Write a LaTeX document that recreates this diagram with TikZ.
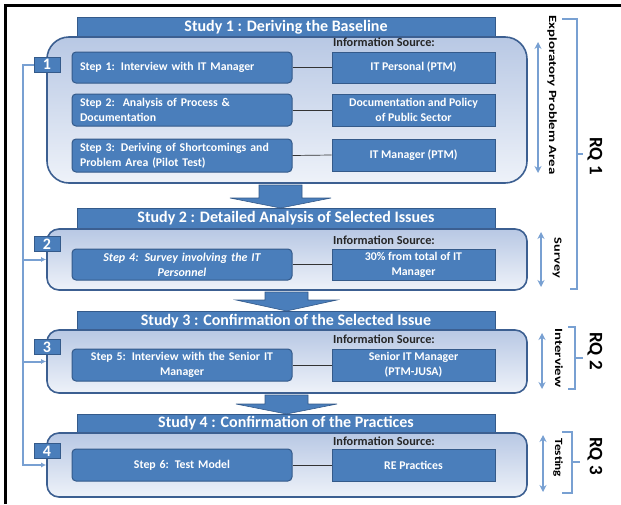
\documentclass[tikz,border=0pt]{standalone}
\usepackage{fontspec}
\setmainfont{Carlito}
\usetikzlibrary{arrows.meta}
\definecolor{boxblue}{RGB}{74,126,187}
\definecolor{boxedge}{RGB}{52,90,138}
\definecolor{lightline}{RGB}{120,160,210}
\definecolor{frameedge}{RGB}{60,95,145}
\definecolor{shadetop}{RGB}{184,200,228}
\definecolor{shadebot}{RGB}{238,242,249}
\begin{document}
\begin{tikzpicture}[x=1pt,y=-1pt,
 titlebar/.style={draw=boxedge, line width=0.8pt, fill=boxblue, minimum width=418pt, minimum height=20pt, inner sep=0pt, text=white, font=\bfseries\fontsize{16}{17}\selectfont},
 studybox/.style={draw=frameedge, line width=1.6pt, top color=shadetop, bottom color=shadebot, minimum width=480pt, inner sep=0pt},
 stepbox/.style={draw=boxedge, line width=1pt, fill=boxblue, rounded corners=4pt, minimum width=220pt, inner xsep=8pt, inner ysep=0pt, text width=204pt, align=left, text=white, font=\bfseries\fontsize{11.8}{15}\selectfont},
 infobox/.style={draw=boxedge, line width=1pt, fill=boxblue, minimum width=163pt, inner sep=0pt, text=white, align=center, font=\bfseries\fontsize{11.8}{15}\selectfont},
 numbox/.style={draw=boxedge, line width=1pt, fill=boxblue, minimum width=26pt, minimum height=15pt, inner sep=0pt, text=white, font=\bfseries\fontsize{16}{16}\selectfont},
 infolabel/.style={anchor=west, inner sep=0pt, text=black!85, font=\bfseries\fontsize{12.3}{13}\selectfont},
 link/.style={draw=black!80, line width=0.7pt},
 feed/.style={draw=lightline, line width=2pt},
 dblarrow/.style={draw=lightline, line width=2pt, {Stealth[length=7pt,width=7pt]}-{Stealth[length=7pt,width=7pt]}},
 sidelabel/.style={rotate=-90, inner sep=0pt, font=\bfseries\fontsize{11}{12}\selectfont},
 rqlabel/.style={rotate=-90, inner sep=0pt, font=\bfseries\fontsize{19}{20}\selectfont},
 downarrow/.style={fill=boxblue, draw=boxedge, line width=0.6pt},
]
\useasboundingbox (0,0) rectangle (621,504);
% frame
\draw[line width=3pt] (5.5,504) -- (5.5,5.5) -- (621,5.5);

% ---------- Study 1 ----------
\node[titlebar] (t1) at (286,27) {Study 1 : Deriving the Baseline};
\node[studybox, minimum height=146pt, rounded corners=22pt] (b1) at (287,110) {};
\node[numbox] (n1) at (47,64.5) {1};
\node[stepbox, minimum height=31pt] (s1) at (182,67.5) {Step 1: Interview with IT Manager};
\node[stepbox, minimum height=32pt] (s2) at (182,110) {Step 2:\ \ Analysis of Process \&\\Documentation};
\node[stepbox, minimum height=33pt] (s3) at (182,155.5) {Step 3: Deriving of Shortcomings and\\Problem Area (Pilot Test)};
\node[infolabel] (il1) at (333,42) {Information Source:};
\node[infobox, minimum height=31pt] (i1) at (413.5,67.5) {IT Personal (PTM)};
\node[infobox, minimum height=32pt] (i2) at (413.5,110) {Documentation and Policy\\of Public Sector};
\node[infobox, minimum height=32pt] (i3) at (413.5,155) {IT Manager (PTM)};
\draw[link] (s1.east) -- (i1.west);
\draw[link] (s2.east) -- (i2.west);
\draw[link] (s3.east) -- (i3.west);

% arrow 1 -> 2
\draw[downarrow] (259,185) -- (302,185) -- (302,198) -- (331,198) -- (280.5,208) -- (230,198) -- (259,198) -- cycle;

% ---------- Study 2 ----------
\node[titlebar, minimum height=21pt] (t2) at (286,218.5) {Study 2 : Detailed Analysis of Selected Issues};
\node[studybox, minimum height=61pt, rounded corners=12pt] (b2) at (287,259.5) {};
\node[numbox] (n2) at (47,244) {2};
\node[stepbox, minimum height=31pt, align=center, font=\bfseries\itshape\fontsize{12}{15}\selectfont] (s4) at (182,264.5) {Step 4: Survey involving the IT\\Personnel};
\node[infolabel] (il2) at (333,240) {Information Source:};
\node[infobox, minimum height=31pt] (i4) at (413.5,264.5) {30\% from total of IT\\Manager};
\draw[link] (s4.east) -- (i4.west);

% arrow 2 -> 3
\draw[downarrow] (265,292) -- (308,292) -- (308,300) -- (337,300) -- (286.5,311) -- (236,300) -- (265,300) -- cycle;

% ---------- Study 3 ----------
\node[titlebar] (t3) at (286,321) {Study 3 : Confirmation of the Selected Issue};
\node[studybox, minimum height=63pt, rounded corners=12pt] (b3) at (287,361.5) {};
\node[numbox] (n3) at (47,347) {3};
\node[stepbox, minimum height=32pt, align=center] (s5) at (182,365) {Step 5: Interview with the Senior IT\\Manager};
\node[infolabel] (il3) at (333,339) {Information Source:};
\node[infobox, minimum height=32pt] (i5) at (413.5,365) {Senior IT Manager\\(PTM-JUSA)};
\draw[link] (s5.east) -- (i5.west);

% arrow 3 -> 4
\draw[downarrow] (265,395) -- (308,395) -- (308,404) -- (337,404) -- (286.5,414) -- (236,404) -- (265,404) -- cycle;

% ---------- Study 4 ----------
\node[titlebar, minimum height=19pt] (t4) at (286,423.5) {Study 4 : Confirmation of the Practices};
\node[studybox, minimum height=64pt, rounded corners=12pt] (b4) at (287,465) {};
\node[numbox] (n4) at (47,451) {4};
\node[stepbox, minimum height=32pt, align=center] (s6) at (182,465) {Step 6: Test Model};
\node[infolabel] (il4) at (333,441) {Information Source:};
\node[infobox, minimum height=32pt] (i6) at (413.5,465) {RE Practices};
\draw[link] (s6.east) -- (i6.west);

% ---------- left feedback spine ----------
\coordinate (sp) at (23,64.5);
\draw[feed, -{Latex[length=5pt,width=5pt]}] (n1.west) -- (sp) |- (b4.west);
\draw[feed, -{Latex[length=5pt,width=5pt]}] (sp |- b2.west) -- (b2.west);
\draw[feed, -{Latex[length=5pt,width=5pt]}] (sp |- b3.west) -- (b3.west);

% ---------- double arrows ----------
\coordinate (a1t) at (538,42);  \coordinate (a1b) at (538,173);
\coordinate (a2t) at (541,232); \coordinate (a2b) at (541,287);
\coordinate (a3t) at (542,333); \coordinate (a3b) at (542,389);
\coordinate (a4t) at (543,435); \coordinate (a4b) at (543,492);
\draw[dblarrow] (a1t) -- (a1b);
\draw[dblarrow] (a2t) -- (a2b);
\draw[dblarrow] (a3t) -- (a3b);
\draw[dblarrow] (a4t) -- (a4b);

% ---------- side labels ----------
\node[sidelabel] (l1) at (552,95) {\scalebox{1.35}[1]{Exploratory Problem Area}};
\node[sidelabel] (l2) at (557,258) {\scalebox{1.3}[1]{Survey}};
\node[sidelabel] (l3) at (559,358) {\scalebox{1.35}[1]{Interview}};
\node[sidelabel] (l4) at (558,458) {\scalebox{1.2}[1]{Testing}};

% ---------- RQ brackets ----------
\draw[feed] (562,19) -- (577,19) -- (577,289) -- (570,289);
\draw[feed] (577,154) -- (583,154);
\draw[feed] (568,327) -- (575,327) -- (575,389) -- (568,389);
\draw[feed] (575,358) -- (583,358);
\draw[feed] (562,432) -- (572,432) -- (572,493) -- (562,493);
\draw[feed] (572,462) -- (580,462);
\node[rqlabel] (rq1) at (595,156) {RQ 1};
\node[rqlabel] (rq2) at (595,351) {RQ 2};
\node[rqlabel] (rq3) at (595,456) {RQ 3};
\end{tikzpicture}
\end{document}
